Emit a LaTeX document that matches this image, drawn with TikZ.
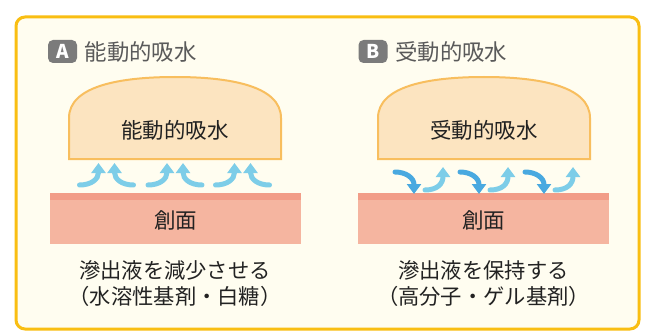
\documentclass[tikz,border=0pt]{standalone}
\usepackage{fontspec}
\setmainfont{Noto Sans CJK JP}
\usetikzlibrary{arrows.meta}
\definecolor{frameC}{HTML}{F9BE12}
\definecolor{bgC}{HTML}{FFFDF0}
\definecolor{domeF}{HTML}{FCE4C0}
\definecolor{domeD}{HTML}{F8BE5E}
\definecolor{woundF}{HTML}{F5B5A0}
\definecolor{woundT}{HTML}{F29D88}
\definecolor{lblue}{HTML}{7DCDE8}
\definecolor{dblue}{HTML}{49A9E0}
\definecolor{badgeC}{HTML}{7B7B7B}
\definecolor{headC}{HTML}{5A5A5A}
\definecolor{txtC}{HTML}{222222}
\tikzset{
  x=1pt,y=-1pt,
  badge/.style={fill=badgeC,rounded corners=5pt,minimum width=29pt,minimum height=23pt,inner sep=0pt,text=white,font=\fontsize{19}{19}\selectfont\bfseries},
  head/.style={anchor=west,text=headC,inner sep=0pt,font=\fontsize{22.4}{22}\selectfont},
  dometxt/.style={text=txtC,inner sep=0pt,font=\fontsize{21.5}{21}\selectfont},
  body/.style={text=txtC,inner sep=0pt,align=center,font=\fontsize{21.3}{26}\selectfont},
  dome/.style={fill=domeF,draw=domeD,line width=2pt},
  flow/.style={line width=5pt,line cap=round,-{Triangle[width=14pt,length=10pt]}},
  upflow/.style={flow,lblue},
  downflow/.style={flow,dblue},
}
\begin{document}
\begin{tikzpicture}
\useasboundingbox (0,0) rectangle (652,334);
\fill[white] (0,0) rectangle (652,334);
\draw[frameC,fill=bgC,line width=3pt,rounded corners=9pt] (16,17) rectangle (639,329);

% ---------- A ----------
\node[badge] (ba) at (62.5,51.5) {A};
\node[head] (ha) at (84.5,52) {能動的吸水};
\draw[dome] (69,159) -- (69,118) .. controls (69,86) and (120,77) .. (175,77) .. controls (230,77) and (281,86) .. (281,118) -- (281,159) -- cycle;
\node[dometxt] (da) at (175,130) {能動的吸水};
\fill[woundF] (50,193) rectangle (301,244);
\fill[woundT] (50,193) rectangle (301,200);
\node[dometxt] (wa) at (175.5,220) {創面};
\node[body] (ta) at (175,284) {滲出液を減少させる\\（水溶性基剤・白糖）};
\foreach \c in {106.5,175,242.5}{
  \draw[upflow] (\c-27,185) .. controls (\c-15,185) and (\c-8,179) .. (\c-8,163);
  \draw[upflow] (\c+27,185) .. controls (\c+15,185) and (\c+8,179) .. (\c+8,163);
}

% ---------- B ----------
\node[badge] (bb) at (373,51.5) {B};
\node[head] (hb) at (395,52) {受動的吸水};
\draw[dome] (378,159) -- (378,118) .. controls (378,86) and (429,77) .. (484,77) .. controls (539,77) and (590,86) .. (590,118) -- (590,159) -- cycle;
\node[dometxt] (db) at (484,130) {受動的吸水};
\fill[woundF] (358,193) rectangle (609,244);
\fill[woundT] (358,193) rectangle (609,200);
\node[dometxt] (wb) at (483.5,220) {創面};
\node[body] (tb) at (483.5,284) {滲出液を保持する\\（高分子・ゲル基剤）};
\foreach \o in {0,65,130}{
  \draw[downflow] (395+\o,172) .. controls (406+\o,172) and (414+\o,178) .. (414+\o,194);
  \draw[upflow] (425+\o,190) .. controls (437+\o,190) and (443+\o,184) .. (443+\o,167);
}
\end{tikzpicture}
\end{document}
